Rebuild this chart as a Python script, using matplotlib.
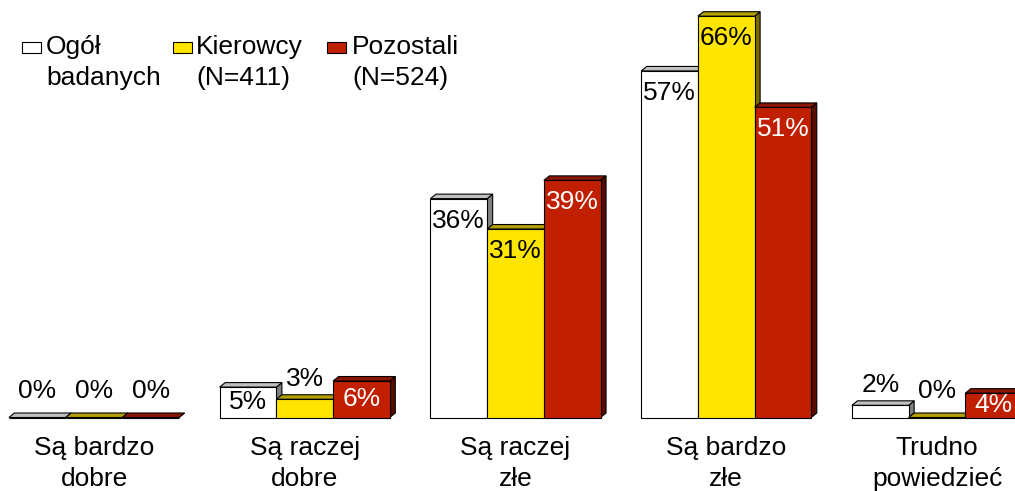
import matplotlib
matplotlib.use('Agg')
import matplotlib.pyplot as plt
from matplotlib.patches import Polygon, Rectangle

categories = ["Są bardzo\ndobre", "Są raczej\ndobre", "Są raczej\nzłe", "Są bardzo\nzłe", "Trudno\npowiedzieć"]
series_names = ["Ogół\nbadanych", "Kierowcy\n(N=411)", "Pozostali\n(N=524)"]
ogol = [0, 5, 36, 57, 2]
kierowcy = [0, 3, 31, 66, 0]
pozostali = [0, 6, 39, 51, 4]
series = [ogol, kierowcy, pozostali]

front_colors = ["#FFFFFF", "#FFE500", "#C02000"]
top_colors = ["#C0C0C0", "#B3A000", "#8A1600"]
side_colors = ["#808080", "#7A6A00", "#5A0B00"]
text_colors = ["black", "black", "white"]

plt.rcParams['font.family'] = ['Liberation Sans', 'DejaVu Sans']
FS = 19

W, H = 1015, 491
fig = plt.figure(figsize=(W / 100, H / 100), dpi=100)
ax = fig.add_axes([0, 0, 1, 1])
ax.axis('off')

px_per_cat = 210.75
px_per_pct = 6.08
x0_px = 94.0
base_px = 417.5
ax.set_xlim(-x0_px / px_per_cat, (W - x0_px) / px_per_cat)
ax.set_ylim(-(H - base_px) / px_per_pct, base_px / px_per_pct)

bw = 56.7 / px_per_cat
dx = 5.5 / px_per_cat
dy = 4.5 / px_per_pct
lw = 0.8

z = 2.0
for gi in range(len(categories)):
    for si, vals in enumerate(series):
        v = vals[gi]
        xc = gi + (si - 1) * bw
        l, r = xc - bw / 2, xc + bw / 2
        side = Polygon([(r, 0), (r, v), (r + dx, v + dy), (r + dx, dy)], closed=True,
                       facecolor=side_colors[si], edgecolor='black', lw=lw, zorder=z)
        top = Polygon([(l, v), (l + dx, v + dy), (r + dx, v + dy), (r, v)], closed=True,
                      facecolor=top_colors[si], edgecolor='black', lw=lw, zorder=z + 0.001)
        ax.add_patch(side)
        ax.add_patch(top)
        ax.bar([xc], [v], width=bw, color=front_colors[si], edgecolor='black', lw=lw,
               zorder=z + 0.002)
        z += 0.01
        # label
        if v >= 4:
            ty = max(v - 3.6, 0.52 * v)
            tc = text_colors[si]
        else:
            ty = v + 3.3 if v > 0 else 4.4
            tc = 'black'
        ax.text(xc, ty, f"{v}%", ha='center', va='center', fontsize=FS, color=tc, zorder=20)

for gi, cat in enumerate(categories):
    ax.text(gi, -(463.5 - base_px) / px_per_pct, cat, ha='center', va='center',
            fontsize=FS, linespacing=1.32, zorder=20)

# legend
leg_sq_x = [22, 173, 327]
leg_tx_x = [46, 196, 352]
for si, name in enumerate(series_names):
    fig.patches.append(Rectangle((leg_sq_x[si] / W, 1 - 53 / H), 19 / W, 11 / H,
                                 transform=fig.transFigure, facecolor=front_colors[si],
                                 edgecolor='black', lw=lw))
    fig.text(leg_tx_x[si] / W, 1 - 62.5 / H, name, ha='left', va='center',
             fontsize=FS, linespacing=1.36)

fig.savefig('out.png', dpi=100)
